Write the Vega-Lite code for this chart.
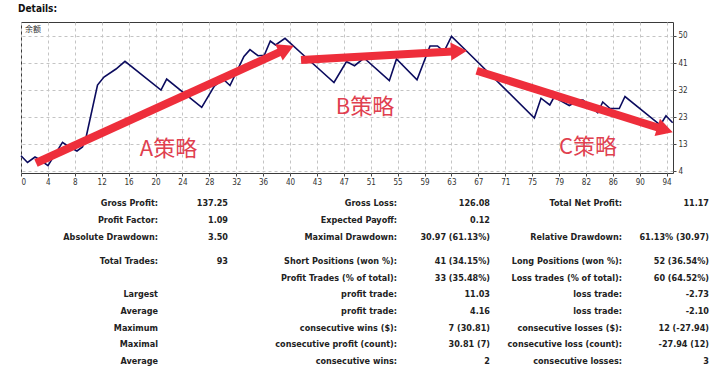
{
  "$schema": "https://vega.github.io/schema/vega-lite/v6.json",
  "background": "white",
  "padding": {"left": 17, "top": 3, "right": 0, "bottom": 0},
  "spacing": 0,
  "config": {
    "font": "DejaVu Sans",
    "view": {"stroke": null},
    "axis": {"labelFont": "DejaVu Sans Condensed", "labelFontSize": 8, "labelColor": "#333", "title": null, "labelOverlap": false}
  },
  "datasets": {
    "balance": [
      {"t": 0, "v": 9.21}, {"t": 0.95, "v": 6.9}, {"t": 2.04, "v": 8.77}, {"t": 2.69, "v": 7.92},
      {"t": 3.93, "v": 5.81}, {"t": 6.04, "v": 13.78}, {"t": 6.7, "v": 12.69}, {"t": 8.15, "v": 10.81},
      {"t": 8.95, "v": 12.18}, {"t": 9.42, "v": 14.9}, {"t": 11.14, "v": 33.3}, {"t": 12.08, "v": 36.03},
      {"t": 13.83, "v": 38.75}, {"t": 15.14, "v": 41.37}, {"t": 20.38, "v": 31.6}, {"t": 21.21, "v": 35.34},
      {"t": 26.31, "v": 25.7}, {"t": 28.15, "v": 32.96}, {"t": 29.41, "v": 35.34}, {"t": 30.43, "v": 33.13},
      {"t": 32.46, "v": 43.01}, {"t": 33.34, "v": 45.33}, {"t": 34.51, "v": 43.28}, {"t": 35.42, "v": 43.42},
      {"t": 36.3, "v": 48.29}, {"t": 37.06, "v": 46.93}, {"t": 38.44, "v": 49.21}, {"t": 41.35, "v": 43.01},
      {"t": 45.57, "v": 34.15}, {"t": 47.39, "v": 41.31}, {"t": 48.56, "v": 39.88}, {"t": 49.94, "v": 42.5},
      {"t": 53.63, "v": 34.77}, {"t": 54.67, "v": 42.16}, {"t": 57.66, "v": 35.11}, {"t": 59.55, "v": 46.59},
      {"t": 60.64, "v": 46.59}, {"t": 61.59, "v": 44.71}, {"t": 62.68, "v": 49.89}, {"t": 64.94, "v": 44.71},
      {"t": 74.74, "v": 22.06}, {"t": 75.71, "v": 28.8}, {"t": 76.99, "v": 26.49}, {"t": 77.61, "v": 29.21},
      {"t": 79.83, "v": 26.32}, {"t": 81.29, "v": 28.19}, {"t": 81.83, "v": 28.19}, {"t": 83.97, "v": 23.83},
      {"t": 84.7, "v": 27.51}, {"t": 85.76, "v": 25.29}, {"t": 87.11, "v": 25.29}, {"t": 87.94, "v": 29.38},
      {"t": 93.08, "v": 19.67}, {"t": 93.91, "v": 22.84}, {"t": 94.88, "v": 20.46}
    ],
    "arrows": [
      {"name": "A", "t0": 2.18, "v0": 6.73, "t1": 38.38, "v1": 45.28, "tt": 39.71, "tv": 46.69},
      {"name": "B", "t0": 40.77, "v0": 41.82, "t1": 63.48, "v1": 44.8, "tt": 64.94, "tv": 44.99},
      {"name": "C", "t0": 66.35, "v0": 38.17, "t1": 93.51, "v1": 18.21, "tt": 94.89, "tv": 17.19}
    ],
    "notes": [
      {"label": "A策略", "t": 21.48, "v": 11.5},
      {"label": "B策略", "t": 50.09, "v": 25.8},
      {"label": "C策略", "t": 82.56, "v": 12.18}
    ],
    "stats": [
      {"row": 1, "col": 1, "text": "Gross Profit:"}, {"row": 1, "col": 2, "text": "137.25"},
      {"row": 1, "col": 3, "text": "Gross Loss:"}, {"row": 1, "col": 4, "text": "126.08"},
      {"row": 1, "col": 5, "text": "Total Net Profit:"}, {"row": 1, "col": 6, "text": "11.17"},
      {"row": 2, "col": 1, "text": "Profit Factor:"}, {"row": 2, "col": 2, "text": "1.09"},
      {"row": 2, "col": 3, "text": "Expected Payoff:"}, {"row": 2, "col": 4, "text": "0.12"},
      {"row": 3, "col": 1, "text": "Absolute Drawdown:"}, {"row": 3, "col": 2, "text": "3.50"},
      {"row": 3, "col": 3, "text": "Maximal Drawdown:"}, {"row": 3, "col": 4, "text": "30.97 (61.13%)"},
      {"row": 3, "col": 5, "text": "Relative Drawdown:"}, {"row": 3, "col": 6, "text": "61.13% (30.97)"},
      {"row": 4, "col": 1, "text": "Total Trades:"}, {"row": 4, "col": 2, "text": "93"},
      {"row": 4, "col": 3, "text": "Short Positions (won %):"}, {"row": 4, "col": 4, "text": "41 (34.15%)"},
      {"row": 4, "col": 5, "text": "Long Positions (won %):"}, {"row": 4, "col": 6, "text": "52 (36.54%)"},
      {"row": 5, "col": 3, "text": "Profit Trades (% of total):"}, {"row": 5, "col": 4, "text": "33 (35.48%)"},
      {"row": 5, "col": 5, "text": "Loss trades (% of total):"}, {"row": 5, "col": 6, "text": "60 (64.52%)"},
      {"row": 6, "col": 1, "text": "Largest"}, {"row": 6, "col": 3, "text": "profit trade:"},
      {"row": 6, "col": 4, "text": "11.03"}, {"row": 6, "col": 5, "text": "loss trade:"}, {"row": 6, "col": 6, "text": "-2.73"},
      {"row": 7, "col": 1, "text": "Average"}, {"row": 7, "col": 3, "text": "profit trade:"},
      {"row": 7, "col": 4, "text": "4.16"}, {"row": 7, "col": 5, "text": "loss trade:"}, {"row": 7, "col": 6, "text": "-2.10"},
      {"row": 8, "col": 1, "text": "Maximum"}, {"row": 8, "col": 3, "text": "consecutive wins ($):"},
      {"row": 8, "col": 4, "text": "7 (30.81)"}, {"row": 8, "col": 5, "text": "consecutive losses ($):"}, {"row": 8, "col": 6, "text": "12 (-27.94)"},
      {"row": 9, "col": 1, "text": "Maximal"}, {"row": 9, "col": 3, "text": "consecutive profit (count):"},
      {"row": 9, "col": 4, "text": "30.81 (7)"}, {"row": 9, "col": 5, "text": "consecutive loss (count):"}, {"row": 9, "col": 6, "text": "-27.94 (12)"},
      {"row": 10, "col": 1, "text": "Average"}, {"row": 10, "col": 3, "text": "consecutive wins:"},
      {"row": 10, "col": 4, "text": "2"}, {"row": 10, "col": 5, "text": "consecutive losses:"}, {"row": 10, "col": 6, "text": "3"}
    ]
  },
  "vconcat": [
    {
      "width": 652,
      "height": 151,
      "view": {"stroke": "#3a3a3a", "strokeWidth": 1},
      "title": {"text": "Details:", "anchor": "start", "frame": "group", "fontSize": 10, "fontWeight": "bold", "font": "DejaVu Sans Condensed", "color": "#111", "dx": -3, "offset": 8},
      "layer": [
        {
          "data": {"name": "balance"},
          "mark": {"type": "line", "color": "#0b0b5e", "strokeWidth": 1.6},
          "encoding": {
            "x": {"field": "t", "type": "quantitative",
              "scale": {"domain": [0, 94.93], "nice": false, "zero": false},
              "axis": {"orient": "bottom", "domain": false, "ticks": true, "tickSize": 3, "tickColor": "#444", "labelPadding": 2, "tickCount": 100,
                "values": [0, 3.9167, 7.8333, 11.75, 15.6667, 19.5833, 23.5, 27.4167, 31.3333, 35.25, 39.1667, 43.0833, 47, 50.9167, 54.8333, 58.75, 62.6667, 66.5833, 70.5, 74.4167, 78.3333, 82.25, 86.1667, 90.0833, 94],
                "labelExpr": "['0','4','8','12','16','20','24','28','32','36','40','43','47','51','55','59','63','67','71','75','79','82','86','90','94'][round(datum.value/3.9167)]",
                "grid": true, "gridColor": "#c4c4c4", "gridDash": [3, 3], "gridWidth": 1}},
            "y": {"field": "v", "type": "quantitative",
              "scale": {"domain": [3.32, 54.77], "nice": false, "zero": false},
              "axis": {"orient": "right", "domain": false, "ticks": true, "tickSize": 3, "tickColor": "#444", "labelPadding": 2, "tickCount": 50,
                "values": [4, 13.2, 22.4, 31.6, 40.8, 50],
                "labelExpr": "['4','13','23','32','41','50'][round((datum.value-4)/9.2)]",
                "grid": true, "gridColor": "#c4c4c4", "gridDash": [3, 3], "gridWidth": 1}}
          }
        },
        {
          "data": {"name": "arrows"},
          "mark": {"type": "rule", "color": "#ee2e3b", "strokeWidth": 8, "strokeCap": "butt"},
          "encoding": {
            "x": {"field": "t0", "type": "quantitative"},
            "y": {"field": "v0", "type": "quantitative"},
            "x2": {"field": "t1"},
            "y2": {"field": "v1"}
          }
        },
        {
          "data": {"name": "arrows"},
          "transform": [{"filter": "datum.name === 'A'"}],
          "mark": {"type": "point", "shape": "M 0 0 L -1.8 -1 L -1.8 1 Z", "filled": true, "color": "#ee2e3b", "opacity": 1, "size": 324, "angle": 335.5},
          "encoding": {"x": {"field": "tt", "type": "quantitative"}, "y": {"field": "tv", "type": "quantitative"}}
        },
        {
          "data": {"name": "arrows"},
          "transform": [{"filter": "datum.name === 'B'"}],
          "mark": {"type": "point", "shape": "M 0 0 L -1.8 -1 L -1.8 1 Z", "filled": true, "color": "#ee2e3b", "opacity": 1, "size": 324, "angle": 356.8},
          "encoding": {"x": {"field": "tt", "type": "quantitative"}, "y": {"field": "tv", "type": "quantitative"}}
        },
        {
          "data": {"name": "arrows"},
          "transform": [{"filter": "datum.name === 'C'"}],
          "mark": {"type": "point", "shape": "M 0 0 L -1.8 -1 L -1.8 1 Z", "filled": true, "color": "#ee2e3b", "opacity": 1, "size": 324, "angle": 17.4},
          "encoding": {"x": {"field": "tt", "type": "quantitative"}, "y": {"field": "tv", "type": "quantitative"}}
        },
        {
          "data": {"name": "notes"},
          "mark": {"type": "text", "font": "Noto Sans CJK SC", "fontSize": 22, "color": "#e0404f", "align": "center", "baseline": "middle"},
          "encoding": {
            "x": {"field": "t", "type": "quantitative"},
            "y": {"field": "v", "type": "quantitative"},
            "text": {"field": "label"}
          }
        },
        {
          "data": {"values": [{"label": "余额", "t": 0.6, "v": 52.0}]},
          "mark": {"type": "text", "font": "Noto Sans CJK SC", "fontSize": 8, "color": "#333", "align": "left", "baseline": "middle"},
          "encoding": {
            "x": {"field": "t", "type": "quantitative"},
            "y": {"field": "v", "type": "quantitative"},
            "text": {"field": "label"}
          }
        }
      ]
    },
    {
      "width": 700,
      "height": 180,
      "view": {"stroke": null},
      "data": {"name": "stats"},
      "mark": {"type": "text", "align": "right", "baseline": "middle", "font": "DejaVu Sans Condensed", "fontWeight": "bold", "fontSize": 9, "color": "#222"},
      "encoding": {
        "x": {"field": "col", "type": "quantitative", "axis": null,
          "scale": {"domain": [1, 2, 3, 4, 5, 6], "range": [137, 207, 376, 469, 601, 688], "nice": false, "zero": false}},
        "y": {"field": "row", "type": "quantitative", "axis": null,
          "scale": {"domain": [1, 3, 4, 10], "range": [16, 50, 74, 174], "nice": false, "zero": false}},
        "text": {"field": "text"}
      }
    }
  ]
}
